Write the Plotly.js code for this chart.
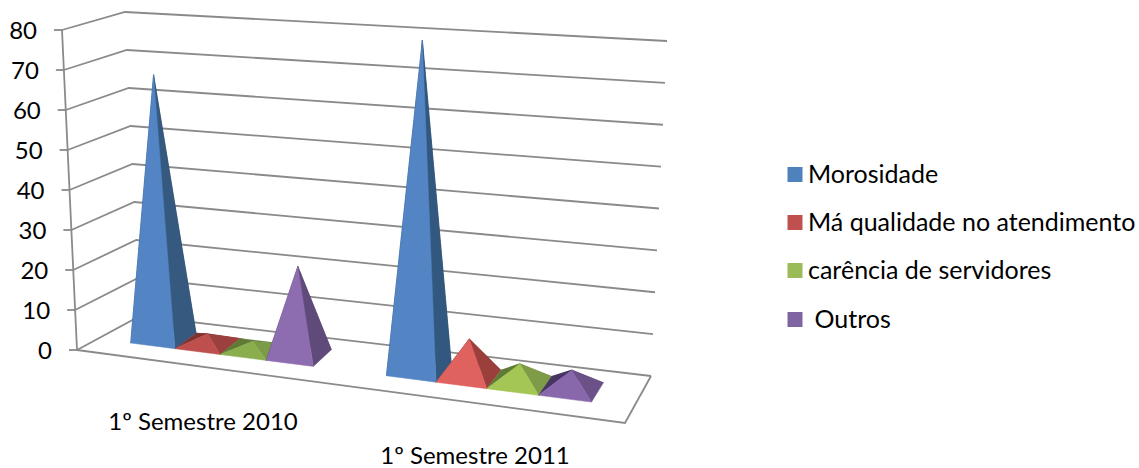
<!DOCTYPE html>
<html>
<head>
<meta charset="utf-8">
<script src="https://cdn.plot.ly/plotly-3.0.1.min.js"></script>
<style>html,body{margin:0;padding:0;background:#fff}#chart{width:1139px;height:468px}</style>
</head>
<body>
<div id="chart"></div>
<script>
// Survey data: complaints per semester
const categories = ['1º Semestre 2010', '1º Semestre 2011'];
const seriesNames = ['Morosidade', 'Má qualidade no atendimento', 'carência de servidores', '\u00a0Outros'];
const morosidade = [67, 80];
const maQualidade = [2.5, 9];
const carencia = [2, 4.5];
const outros = [22, 4.5];
const seriesValues = [morosidade, maQualidade, carencia, outros];
const valueTicks = [0, 10, 20, 30, 40, 50, 60, 70, 80];

// Face shades per series and semester: [front, side, shadowed]
const legendColors = ['#4f81bd', '#c0504d', '#9bbb59', '#8064a2'];
const faceColors = [
  [['#5385c4', '#35597f', '#2b4868'], ['#5385c4', '#33587f', '#2b4868']],
  [['#bd504d', '#9b403e', '#7f3331'], ['#e0625e', '#9a3f3c', '#7f3331']],
  [['#8aad4e', '#7c9b46', '#5f7a35'], ['#a3c655', '#7e9c48', '#5f7a35']],
  [['#8e6cb0', '#5f4a7a', '#4a3a62'], ['#8867ab', '#6b5188', '#453560']]
];

// Oblique perspective of the chart box: floor corners and the vector spanning the full value range
const floorFL = [77, 350], floorFR = [625, 423], floorBL = [140, 316], floorBR = [651, 376];
const riseFL = [-15, -320], riseFR = [17, -352], riseBL = [-15, -304], riseBR = [16, -335];
const valueMax = 80;

function bilinear(a, b, c, d, s, t) {
  const lerp = (p, q, k) => p + (q - p) * k;
  return [0, 1].map(i => lerp(lerp(a[i], b[i], s), lerp(c[i], d[i], s), t));
}
function project(s, depth, value) {
  const f = bilinear(floorFL, floorFR, floorBL, floorBR, s, depth);
  const r = bilinear(riseFL, riseFR, riseBL, riseBR, s, depth);
  return [f[0] + r[0] * value / valueMax, f[1] + r[1] * value / valueMax];
}

// Slot positions along the category axis, with slight foreshortening toward the right
const gap = 0.0685, slot = 0.0905, foreshorten = 0.89, backTaper = 0.007;
const depthFront = 0.33, depthBack = 0.75;
function along(u) { return u * foreshorten / (1 + (foreshorten - 1) * u); }
// Pyramid bases narrow toward the left as they recede
function projectMark(s, depth, value) {
  const k = (depth - depthFront) / (depthBack - depthFront);
  return project(s - backTaper * (1 - s) * k, depth, value);
}

const traces = [];
function polyline(pts, color, width) {
  traces.push({
    type: 'scatter', mode: 'lines', x: pts.map(p => p[0]), y: pts.map(p => p[1]),
    line: {color: color, width: width}, hoverinfo: 'skip', showlegend: false
  });
}
function face(pts, color) {
  const closed = pts.concat([pts[0]]);
  traces.push({
    type: 'scatter', mode: 'lines', x: closed.map(p => p[0]), y: closed.map(p => p[1]),
    fill: 'toself', fillcolor: color, line: {color: color, width: 0.5},
    hoverinfo: 'skip', showlegend: false
  });
}
function textTrace(points, labels, position, size) {
  traces.push({
    type: 'scatter', mode: 'text', x: points.map(p => p[0]), y: points.map(p => p[1]),
    text: labels, textposition: position, cliponaxis: false,
    textfont: {family: 'Lato, Carlito, sans-serif', size: size, color: '#000'},
    hoverinfo: 'skip', showlegend: false
  });
}

// Gridlines on the back and side walls, the value axis and the floor outline
const gridColor = '#8a8a8a';
valueTicks.forEach(v => {
  polyline([project(0, 0, v), project(0, 1, v), project(1, 1, v)], gridColor, 1.8);
  const a = project(0, 0, v);
  polyline([[a[0] - 8, a[1]], a], gridColor, 1.8);
});
polyline([project(0, 0, 0), project(0, 0, valueMax)], gridColor, 1.8);
polyline([project(0, 0, 0), project(1, 0, 0), project(1, 1, 0)], gridColor, 1.8);

// Pyramids, painted far faces first
categories.forEach((cat, i) => {
  seriesValues.forEach((vals, j) => {
    const u0 = gap + i * (4 * slot + 2 * gap) + j * slot;
    const s0 = along(u0), s1 = along(u0 + slot), sm = along(u0 + slot / 2);
    const dm = (depthFront + depthBack) / 2;
    const FL = projectMark(s0, depthFront, 0), FR = projectMark(s1, depthFront, 0);
    const BL = projectMark(s0, depthBack, 0), BR = projectMark(s1, depthBack, 0);
    const apex = projectMark(sm, dm, vals[i]);
    const c = faceColors[j][i];
    face([BL, BR, apex], c[2]);
    face([FL, BL, apex], c[2]);
    face([FR, BR, apex], c[1]);
    face([FL, FR, apex], c[0]);
  });
});

// Value labels follow the slanted axis
textTrace(valueTicks.map(v => { const p = project(0, 0, v); return [p[0] - 25, p[1] + 3]; }),
  valueTicks.map(String), 'middle left', 24);

// Category labels
const categoryAnchors = [[203, 424], [475, 458]];
textTrace(categoryAnchors, categories, 'middle center', 24);

// Legend
const legendX = 795, legendY = [174.5, 222.5, 270.5, 319.5];
seriesNames.forEach((name, j) => {
  traces.push({
    type: 'scatter', mode: 'markers', x: [legendX], y: [legendY[j]],
    marker: {symbol: 'square', size: 15, color: legendColors[j], line: {width: 0}},
    hoverinfo: 'skip', showlegend: false
  });
  textTrace([[legendX + 13, legendY[j] + 2]], [name], 'middle right', 25);
});

const layout = {
  width: 1139, height: 468, margin: {l: 0, r: 0, t: 0, b: 0},
  paper_bgcolor: '#fff', plot_bgcolor: '#fff', showlegend: false,
  xaxis: {range: [0, 1139], visible: false, fixedrange: true},
  yaxis: {range: [468, 0], visible: false, fixedrange: true}
};
Plotly.newPlot('chart', traces, layout, {displayModeBar: false, staticPlot: true});
</script>
</body>
</html>
